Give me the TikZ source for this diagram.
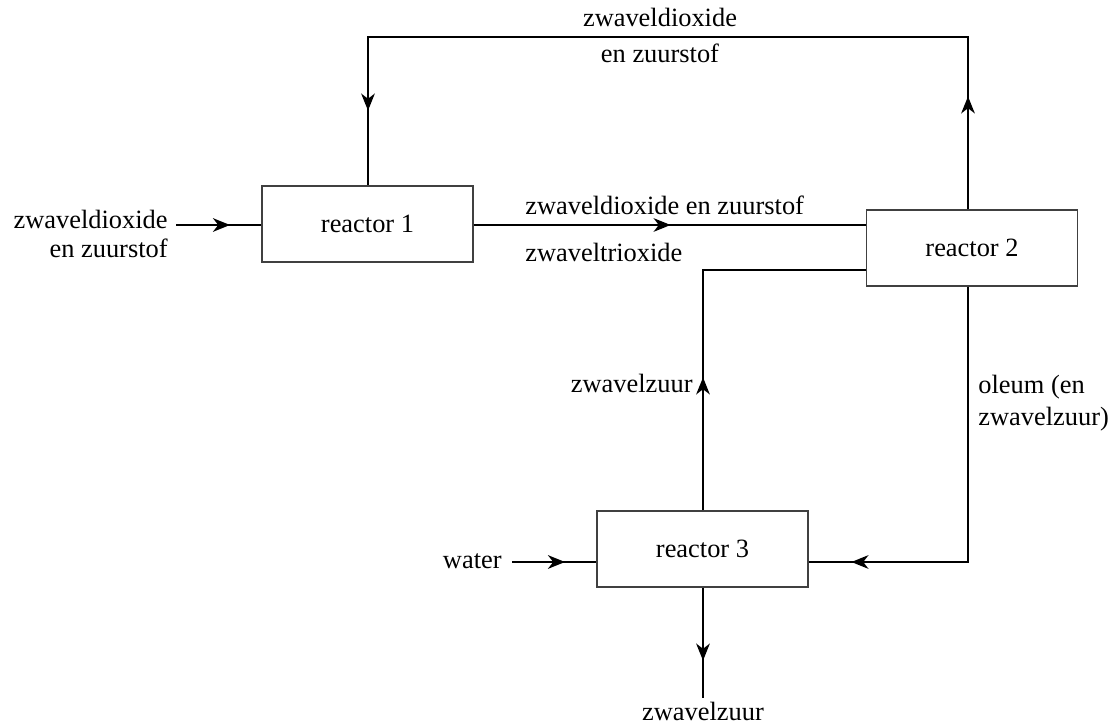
\documentclass[tikz,border=0pt]{standalone}
\usepackage{fontspec}
\setmainfont{Liberation Serif}
\newfontfamily\tnr{Liberation Serif}
\usetikzlibrary{arrows.meta,decorations.markings}
\begin{document}
\begin{tikzpicture}[x=0.5pt,y=-0.5pt,
  box/.style={draw=black!75, fill=white, line width=0.6pt, minimum width=105.5pt, minimum height=38pt, inner sep=0pt, font=\tnr\fontsize{13.2}{15}\selectfont},
  lbl/.style={inner sep=0pt, font=\tnr\fontsize{13.2}{15}\selectfont},
  flow/.style={line width=1.1pt},
  arr/.style={postaction={decorate, decoration={markings, mark=at position #1 with {\arrow{Stealth[length=8.5pt,width=6.8pt,inset=2.6pt]}}}}}
]
\useasboundingbox (0,0) rectangle (1119,727);

\node[box] (r1) at (367.5,224) {reactor 1};
\node[box] (r2) at (972,248) {reactor 2};
\node[box] (r3) at (702.5,549) {reactor 3};

% coordinates of bends and free ends
\coordinate (in1) at (176,225);
\coordinate (tr) at (968,37);
\coordinate (tl) at (368,37);
\coordinate (j) at (703,270);
\coordinate (k) at (968,562);
\coordinate (w) at (512,562);
\coordinate (o) at (703,698);

% connectors
\draw[flow, arr=27pt] (in1) -- (in1 -| r1.west);
\draw[flow, arr=98.5pt] (r1.east |- in1) -- (in1 -| r2.west);
\draw[flow, arr=56.5pt, arr=423pt] (tr |- r2.north) -- (tr) -- (tl) -- (tl |- r1.north);
\draw[flow, arr=66.5pt] (j |- r3.north) -- (j) -- (j -| r2.west);
\draw[flow, arr=196pt] (k |- r2.south) -- (k) -- (k -| r3.east);
\draw[flow, arr=26.5pt] (w) -- (w -| r3.west);
\draw[flow, arr=36.5pt] (o |- r3.south) -- (o);

% labels
\node[lbl, anchor=base east] (l1a) at (168,229) {zwaveldioxide};
\node[lbl, anchor=base east] (l1b) at (168,257) {en zuurstof};
\node[lbl, anchor=base west] (l2) at (525,215) {zwaveldioxide en zuurstof};
\node[lbl, anchor=base west] (l3) at (525,262) {zwaveltrioxide};
\node[lbl, anchor=base] (l4a) at (660,27) {zwaveldioxide};
\node[lbl, anchor=base] (l4b) at (660,63) {en zuurstof};
\node[lbl, anchor=base east] (l5) at (693,392) {zwavelzuur};
\node[lbl, anchor=base west] (l6a) at (978,393) {oleum (en};
\node[lbl, anchor=base west] (l6b) at (978,425) {zwavelzuur)};
\node[lbl, anchor=base east] (l7) at (502,568) {water};
\node[lbl, anchor=base] (l8) at (703,720) {zwavelzuur};
\end{tikzpicture}
\end{document}
